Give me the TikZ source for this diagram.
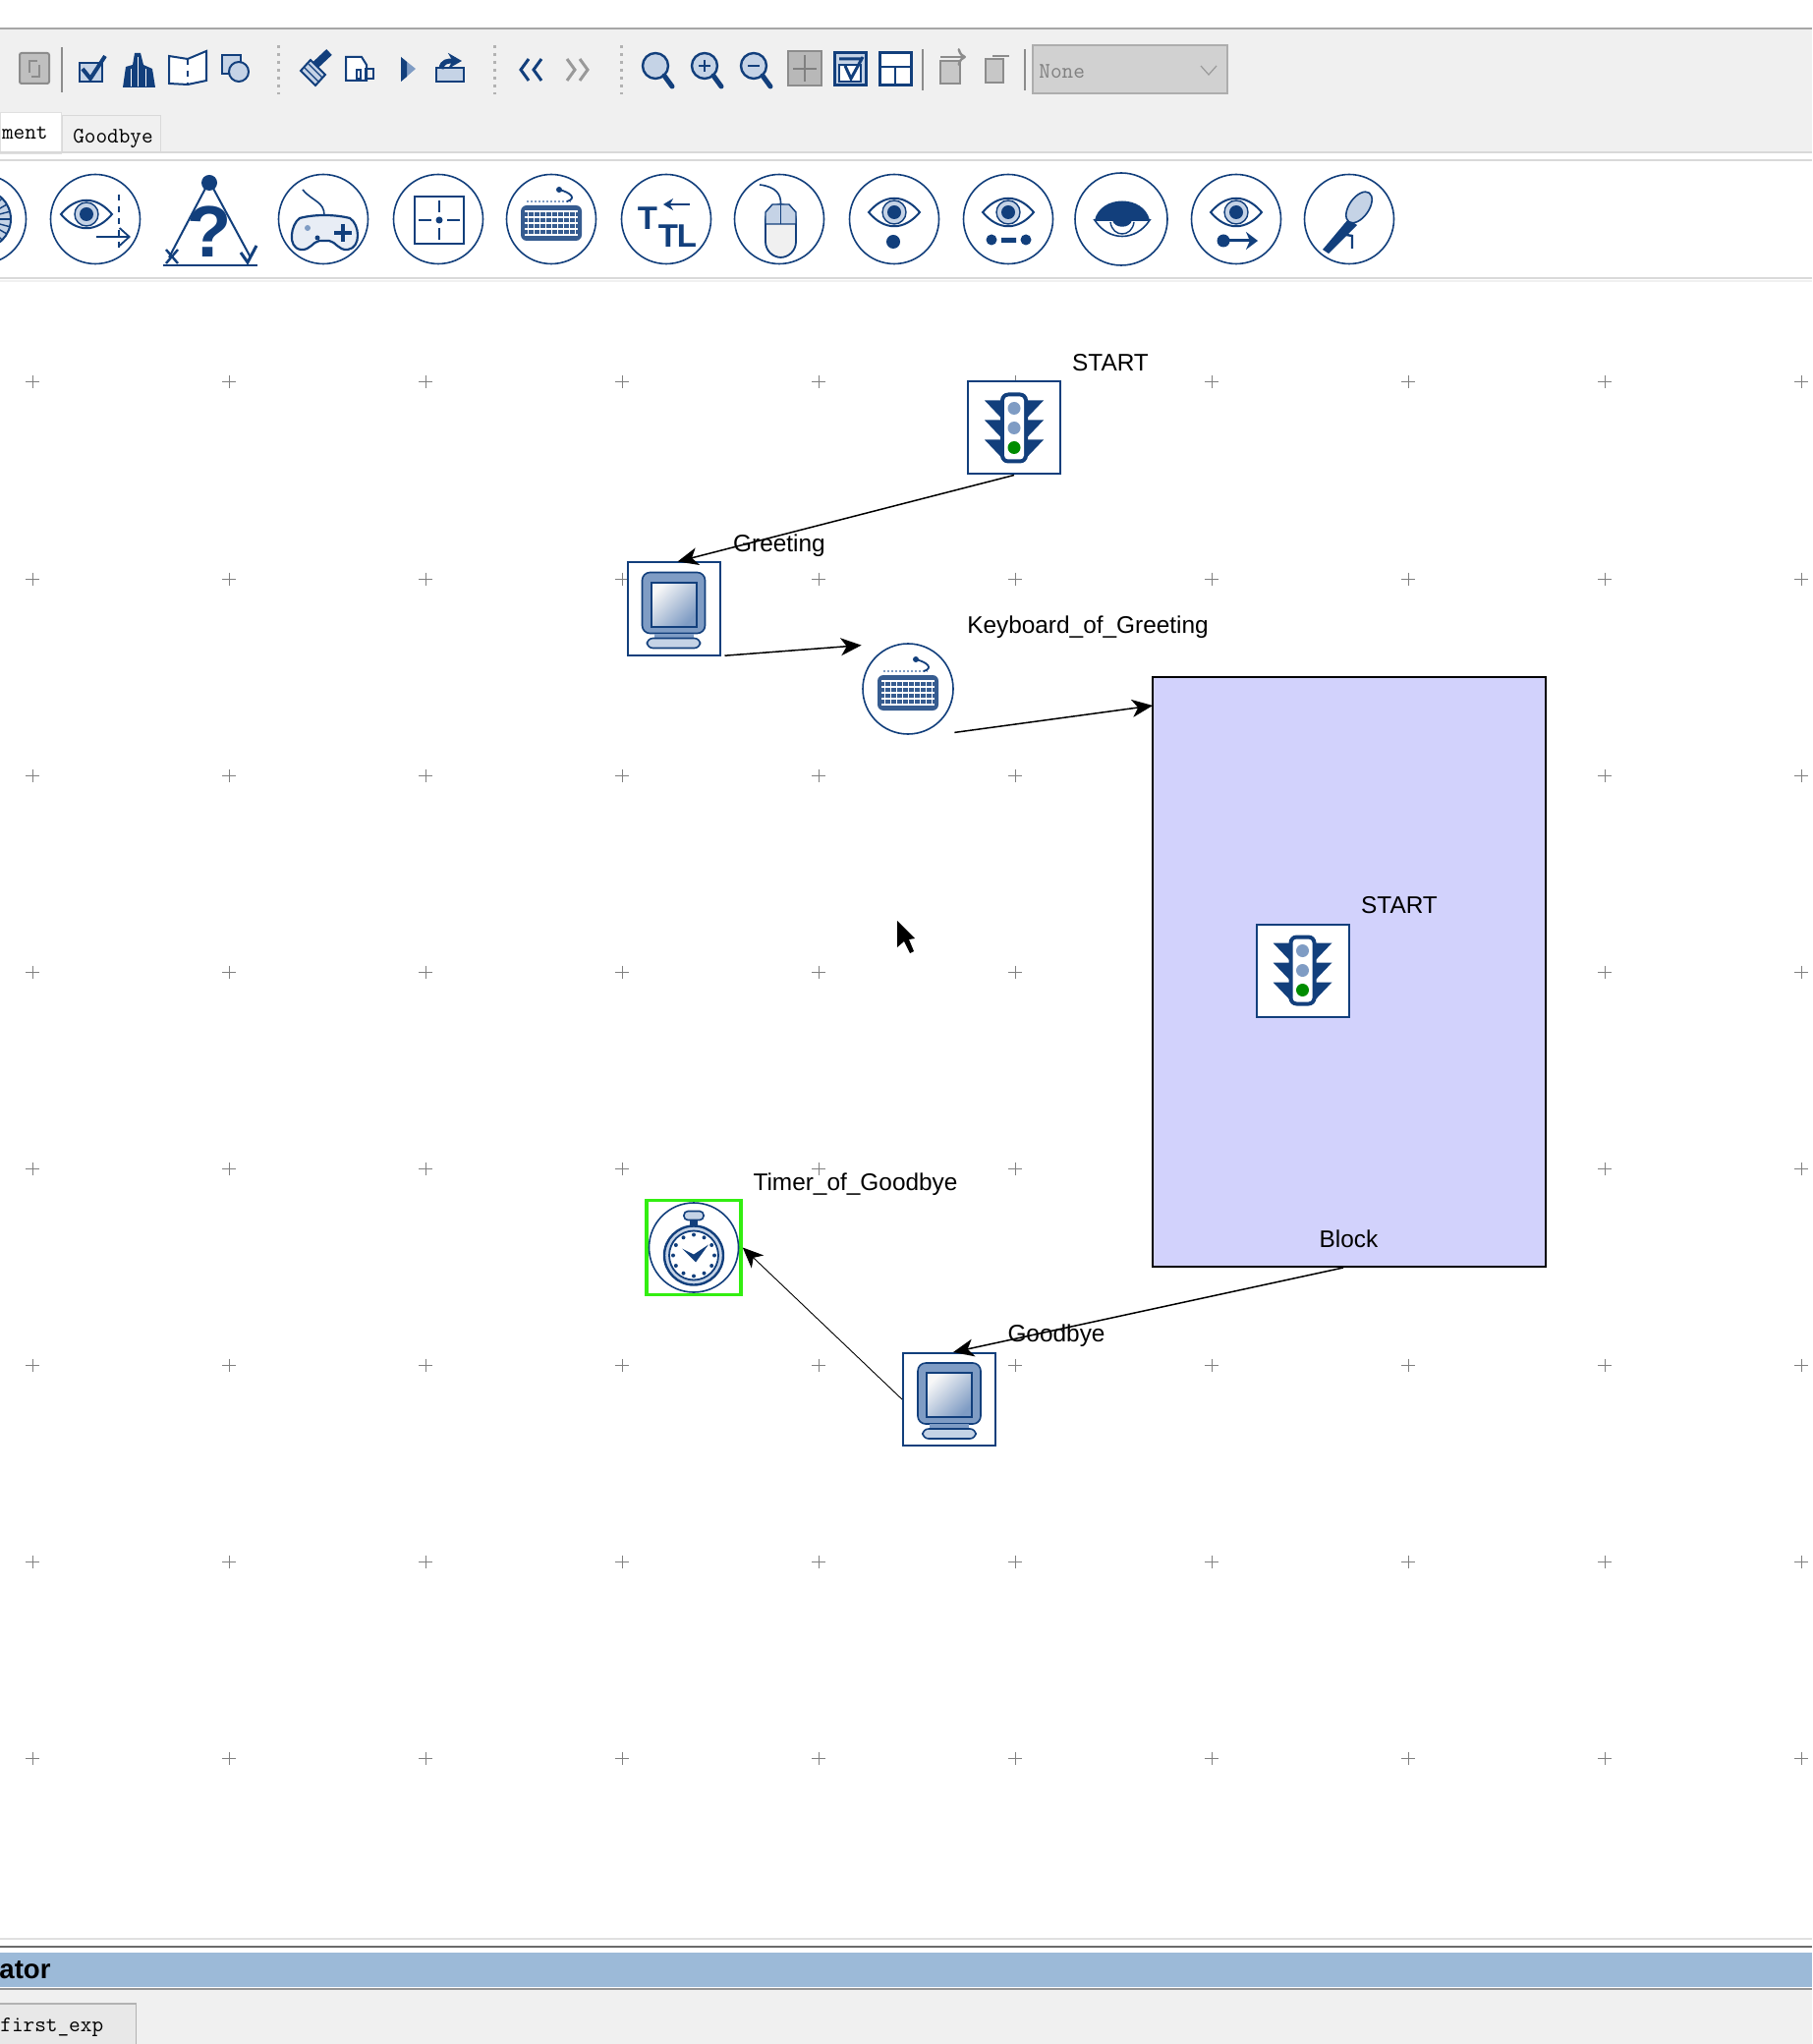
\documentclass[tikz,border=0pt]{standalone}
\usepackage{fontspec}
\setmainfont{Liberation Sans}
\usetikzlibrary{arrows.meta,calc}
\definecolor{iconblue}{HTML}{123F7C}
\definecolor{iconmid}{HTML}{7F9CC4}
\definecolor{iconpale}{HTML}{C5D3E6}
\definecolor{barblue}{HTML}{9CBAD8}
\definecolor{panelgray}{HTML}{F0F0F0}
\definecolor{blockfill}{HTML}{D2D2FC}
\definecolor{timergreen}{HTML}{33EE11}
\tikzset{
  iconline/.style={draw=iconblue, line width=1pt},
  grayline/.style={draw=black!45, line width=1pt},
  iconbox/.style={rectangle, draw=iconblue, line width=1pt, fill=white,
                  minimum width=47pt, minimum height=47pt, inner sep=0pt},
  plainbox/.style={rectangle, minimum width=47pt, minimum height=44pt, inner sep=0pt},
  palcircle/.style={circle, draw=iconblue, line width=.8pt, fill=white,
                    minimum size=45.5pt, inner sep=0pt},
  blockbox/.style={rectangle, draw=black, line width=1pt, fill=blockfill,
                   minimum width=200pt, minimum height=300pt, inner sep=0pt},
  timerbox/.style={rectangle, draw=timergreen, line width=1.8pt, fill=white,
                   minimum width=48pt, minimum height=48pt, inner sep=0pt},
  diaglabel/.style={inner sep=0pt, font=\fontsize{12.2}{14}\selectfont},
  uilabel/.style={inner sep=0pt, font=\fontsize{11.3}{13}\selectfont\ttfamily},
  arr/.style={-{Stealth[length=10.5pt,width=9pt,inset=3pt]}, line width=.75pt, draw=black},
  thinarr/.style={arr, line width=.45pt},
  dottedsep/.style={draw=black!30, line width=1.5pt, dash pattern=on 1.5pt off 2.5pt},
  solidsep/.style={draw=black!45, line width=.6pt},
  lightpic/.pic={
    \foreach \wy in {-20,0,20} {
      \fill[iconblue] (-30,\wy-8) -- (-10,\wy-8) -- (-10,\wy+13) -- cycle;
      \fill[iconblue] (30,\wy-8) -- (10,\wy-8) -- (10,\wy+13) -- cycle;
    }
    \fill[iconblue, rounded corners=4] (-14,-36) rectangle (14,36);
    \fill[white, rounded corners=2] (-10,-32) rectangle (10,32);
    \fill[iconmid] (0,-20) circle (6.5) (0,0) circle (6.5);
    \fill[green!55!black] (0,20) circle (6.5);
  },
  screenpic/.pic={
    \draw[iconblue, line width=.8pt, fill=iconmid, rounded corners=4] (-32,-37) rectangle (32,25);
    \shade[top color=black!3, middle color=white, bottom color=iconmid, shading angle=45] (-23,-27) rectangle (23,18);
    \draw[iconblue, line width=1pt] (-23,-27) rectangle (23,18);
    \fill[iconmid] (-20,25) rectangle (20,30);
    \draw[iconblue, line width=.8pt, fill=iconpale, rounded corners=3] (-27,30) rectangle (27,40);
  },
  keyspic/.pic={
    \fill[iconblue!85!white, rounded corners=3] (-31,-14) rectangle (31,22);
    \foreach \ky in {-8,-2,4,10,16} \draw[white, line width=.55pt] (-27,\ky) -- (27,\ky);
    \foreach \kx in {-24,-18,...,24} \draw[white, line width=.45pt] (\kx,-8) -- (\kx,16);
    \draw[iconmid, line width=1pt, dash pattern=on 1pt off 1pt] (-25,-18) -- (20,-18);
    \draw[iconblue, line width=.9pt] (16,-18) .. controls (26,-21) and (20,-27) .. (8,-30);
    \fill[iconblue] (8,-30) circle (3);
  },
  clockpic/.pic={
    \draw[iconblue, line width=.8pt] (0,0) circle (45.5);
    \draw[iconblue, line width=.8pt, fill=iconpale, rounded corners=2] (-10,-37) rectangle (10,-28);
    \fill[iconblue] (-4,-28) rectangle (4,-20);
    \draw[iconblue, line width=1.2pt, fill=iconpale] (0,8) circle (30);
    \draw[iconblue, line width=.9pt, fill=white] (0,8) circle (25);
    \foreach \ca in {0,30,...,330} \fill[iconblue] ($(0,8)+(\ca:21)$) circle (2);
    \fill[iconblue] (-12,1) -- (0,7) -- (15,-3) -- (2,15) -- cycle;
  },
  eyepic/.pic={
    \draw[iconblue, line width=1pt, fill=white] (-26,0) .. controls (-10,-19) and (10,-19) .. (26,0)
      .. controls (10,19) and (-10,19) .. (-26,0) -- cycle;
    \draw[iconblue, line width=.7pt, fill=iconpale] (0,0) circle (12);
    \fill[iconblue] (0,0) circle (7);
  },
  lenspic/.pic={
    \draw[iconblue, line width=1.2pt, fill=iconpale] (0,0) circle (13);
    \draw[iconblue, line width=2.5pt, line cap=round] (9,10) -- (17,21);
  },
}
\begin{document}
\begin{tikzpicture}[x=.5pt,y=-.5pt]
  \useasboundingbox (0,0) rectangle (1844,2080);
  \fill[white] (0,0) rectangle (1844,2080);
  % toolbar and tab strip
  \fill[panelgray] (0,30) rectangle (1844,155);
  \draw[draw=black!35, line width=1pt] (0,29) -- (1844,29);
  \node[rectangle, fill=white, draw=black!12, minimum width=31pt, minimum height=21pt, inner sep=0pt] (tabcurrent) at (31,135) {};
  \node[rectangle, fill=panelgray, draw=black!15, minimum width=50pt, minimum height=19pt, inner sep=0pt] (tabbye) at (113,136.5) {};
  \node[uilabel, anchor=east] (tabcurrenttext) at (49,135) {ment};
  \node[uilabel] (tabbyetext) at (115,141) {Goodbye};
  \draw[draw=black!15, line width=1pt] (0,155) -- (1844,155) (0,163) -- (1844,163) (0,283) -- (1844,283);
  \fill[panelgray] (0,285) rectangle (1844,287);
  % toolbar icons
  \draw[grayline, fill=black!25, rounded corners=1] (20,54) rectangle (50,85);
  \draw[black!45, line width=1.2pt] (30,74) -- (30,62) -- (38,62) (40,66) -- (40,78) -- (32,78);
  \draw[solidsep] (63,48) -- (63,94);
  \draw[iconline, fill=iconpale] (81,64) rectangle (104,83);
  \draw[iconblue, line width=2pt] (84,70) -- (92,80) -- (107,57);
  \fill[iconblue] (125,89) -- (128,68) -- (135,66) -- (137,54) -- (143,54) -- (146,66) -- (155,70) -- (158,89) -- cycle;
  \draw[white, line width=.5pt] (133,70) -- (133,88) (140,58) -- (140,88) (148,70) -- (148,88);
  \draw[iconline, fill=white] (172,57) -- (191,60) -- (210,52) -- (210,82) -- (191,86) -- (172,85) -- cycle;
  \draw[iconline, dashed] (191,60) -- (191,86);
  \draw[iconline, fill=iconpale] (226,56) rectangle (245,75);
  \draw[iconline, fill=iconpale] (243,73) circle (10);
  \draw[iconblue, line width=4pt] (317,70) -- (335,53);
  \draw[iconline, fill=iconpale] (306,72) -- (321,87) -- (331,76) -- (316,61) -- cycle;
  \draw[iconblue, line width=.6pt] (310,69) -- (324,83) (314,65) -- (328,79);
  \draw[iconline, fill=white] (352,58) -- (368,58) -- (373,66) -- (373,82) -- (352,82) -- cycle;
  \draw[iconline] (363,71) rectangle (367,80) (372,70) rectangle (380,80);
  \fill[iconmid] (408,58) -- (408,83) -- (423,70) -- cycle;
  \fill[iconblue] (408,58) -- (408,83) -- (414,78) -- (414,63) -- cycle;
  \draw[iconline, fill=iconpale] (444,83) rectangle (472,69);
  \draw[iconblue, line width=2.5pt, -{Stealth[length=7pt,width=8pt]}] (449,70) .. controls (450,62) and (456,62) .. (470,62);
  \draw[dottedsep] (283.5,46) -- (283.5,96);
  \draw[dottedsep] (503.5,46) -- (503.5,96);
  \draw[iconblue, line width=1.5pt] (538,60) -- (530,71) -- (538,82) (551,60) -- (543,71) -- (551,82);
  \draw[black!40, line width=1.5pt] (577,60) -- (585,71) -- (577,82) (590,60) -- (598,71) -- (590,82);
  \draw[dottedsep] (632,46) -- (632,96);
  \pic at (667,67) {lenspic};
  \pic at (717,67) {lenspic};
  \draw[iconblue, line width=1.3pt] (711,67) -- (723,67) (717,61) -- (717,73);
  \pic at (767,67) {lenspic};
  \draw[iconblue, line width=1.3pt] (761,67) -- (773,67);
  \draw[grayline, fill=black!28] (802,52) rectangle (836,87);
  \draw[black!50, line width=.8pt] (807,70) -- (831,70) (819,56) -- (819,83);
  \draw[iconline, line width=1.5pt, fill=iconpale] (849,54) rectangle (881,87);
  \draw[iconline, fill=white] (854,66) rectangle (876,83);
  \draw[iconblue, line width=1.5pt] (854,60) -- (876,60) (860,67) -- (866,80) -- (878,58);
  \draw[iconline, line width=1.5pt, fill=white] (895,54) rectangle (927,87);
  \draw[iconline] (895,68) -- (927,68) (911,68) -- (911,87);
  \draw[solidsep] (939,50) -- (939,92);
  \draw[grayline, fill=black!22] (957,62) rectangle (977,85);
  \draw[black!45, line width=1.2pt, ->] (957,58) -- (983,58);
  \draw[grayline, fill=black!22] (1003,60) rectangle (1021,84);
  \draw[grayline] (1010,57) -- (1027,57);
  \draw[solidsep] (1043,50) -- (1043,92);
  \node[rectangle, draw=black!32, line width=1pt, fill=black!18, minimum width=99pt, minimum height=24.5pt, inner sep=0pt] (combo) at (1150,70.5) {};
  \node[uilabel, text=black!50, anchor=west] (combotext) at (1057,73) {None};
  \draw[black!40, line width=.6pt] (1222,67) -- (1230,76) -- (1238,67);
  % palette
  \node[palcircle] (paledge) at (-19,223) {};
  \draw[iconblue, line width=1pt, fill=iconpale] (paledge.center) circle (30);
  \foreach \pa in {-60,-45,...,60} \draw[iconblue, line width=.7pt] (paledge.center) -- ++(\pa:30);
  \node[palcircle] (palgaze) at (97,223) {};
  \pic at (88,218) {eyepic};
  \draw[iconblue, line width=.8pt, dashed] (121,198) -- (121,252);
  \draw[iconblue, line width=.9pt, -{Straight Barb[length=5pt,width=9pt]}] (98,241) -- (133,241);
  \fill[iconblue] (213,186) circle (8);
  \draw[iconline] (211,188) -- (172,262) (215,188) -- (255,262);
  \draw[iconblue, line width=1.1pt] (166,270) -- (262,270);
  \draw[iconblue, line width=1.2pt] (169,254) -- (181,268) (181,254) -- (169,268);
  \draw[iconblue, line width=1.5pt] (245,257) -- (252,267) -- (261,250);
  \node[inner sep=0pt, text=iconblue, font=\fontsize{37}{37}\selectfont\bfseries] (palquestion) at (213,236) {?};
  \node[palcircle] (palpad) at (329,223) {};
  \draw[iconblue, line width=.8pt] (308,193) .. controls (318,205) and (330,205) .. (330,219);
  \draw[iconblue, line width=1.1pt, fill=iconpale!40] (305,222) .. controls (320,218) and (340,218) .. (356,222)
    .. controls (366,228) and (368,252) .. (354,254) .. controls (344,255) and (342,246) .. (335,245) -- (325,245)
    .. controls (318,246) and (316,255) .. (306,254) .. controls (292,252) and (296,228) .. (305,222) -- cycle;
  \draw[iconblue, line width=2.3pt] (340,237) -- (358,237) (349,228) -- (349,246);
  \fill[iconmid] (313,232) circle (3);
  \fill[iconblue] (323,242) circle (2.5);
  \node[palcircle] (palfix) at (446,223) {};
  \draw[iconblue, line width=1.2pt] (422,200) rectangle (472,248);
  \draw[iconblue, line width=1.2pt] (447,204) -- (447,216) (447,232) -- (447,244) (426,224) -- (439,224) (455,224) -- (468,224);
  \fill[iconblue] (447,224) circle (3.5);
  \node[palcircle] (palkeys) at (561,223) {};
  \pic at (561,223) {keyspic};
  \node[palcircle] (palttl) at (678,223) {};
  \node[inner sep=0pt, text=iconblue, font=\fontsize{16.5}{17}\selectfont\bfseries] (palttla) at (659,222) {T};
  \node[inner sep=0pt, text=iconblue, font=\fontsize{16.5}{17}\selectfont\bfseries] (palttlb) at (680,240) {T};
  \node[inner sep=0pt, text=iconblue, font=\fontsize{16.5}{17}\selectfont\bfseries] (palttlc) at (699,240) {L};
  \draw[iconblue, line width=1.2pt, -{Stealth[length=5pt,width=6pt]}] (702,208) -- (675,208);
  \node[palcircle] (palmouse) at (793,223) {};
  \draw[iconblue, line width=.8pt] (773,188) .. controls (790,190) and (795,198) .. (794.5,208);
  \draw[iconblue, line width=.9pt, fill=black!6, rounded corners=8] (779,208) rectangle (810,262);
  \draw[iconblue, line width=.7pt, fill=iconpale] (779,228) -- (810,228) -- (810,216) -- (803,208) -- (786,208) -- (779,216) -- cycle;
  \draw[iconblue, line width=.7pt] (794.5,208) -- (794.5,228);
  \node[palcircle] (paleyedot) at (910,223) {};
  \pic at (910,216) {eyepic};
  \fill[iconblue] (909,246) circle (7);
  \node[palcircle] (paleyedash) at (1026,223) {};
  \pic at (1026,216) {eyepic};
  \fill[iconblue] (1009,244) circle (5.5) (1044,244) circle (5.5) (1019,242) rectangle (1034,247);
  \node[palcircle, minimum size=47pt] (paleyeshut) at (1141,223) {};
  \draw[iconblue, line width=.8pt, fill=white] (1114,224) .. controls (1128,246) and (1156,246) .. (1170,224) -- cycle;
  \draw[iconblue, line width=.7pt] (1130,226) .. controls (1132,242) and (1152,242) .. (1154,226);
  \fill[iconblue] (1114,224) .. controls (1120,198) and (1164,198) .. (1170,224) .. controls (1162,224) and (1152,224) .. (1152,224)
    .. controls (1150,233) and (1134,233) .. (1132,224) .. controls (1126,224) and (1120,224) .. (1114,224) -- cycle;
  \node[palcircle] (paleyearrow) at (1258,223) {};
  \pic at (1258,216) {eyepic};
  \fill[iconblue] (1245,245) circle (6.5);
  \draw[iconblue, line width=1.5pt, -{Stealth[length=6pt,width=9pt]}] (1248,245) -- (1280,245);
  \node[palcircle] (palmic) at (1373,223) {};
  \fill[iconblue] (1372,223) -- (1381,229) -- (1352,258) -- (1346,254) -- cycle;
  \draw[iconblue, line width=1.2pt] (1364,238) -- (1376,240) -- (1376,253);
  \draw[iconblue, line width=.8pt, fill=iconpale, rotate around={-35:(1383,211)}] (1383,211) ellipse (10 and 18);
  % bottom bar
  \draw[draw=black!12, line width=1pt] (0,1973) -- (1844,1973);
  \draw[draw=black!58, line width=1pt] (0,1981) -- (1844,1981);
  \fill[barblue] (0,1987) rectangle (1844,2022);
  \fill[panelgray] (0,2024) rectangle (1844,2080);
  \draw[draw=black!42, line width=1pt] (0,2024) -- (1844,2024);
  \node[inner sep=0pt, anchor=east, font=\fontsize{13.8}{15}\selectfont\bfseries] (bartitle) at (52,2005) {ator};
  \node[rectangle, draw=black!30, line width=.7pt, fill=black!9, minimum width=70.5pt, minimum height=23pt, inner sep=0pt] (tabfile) at (68,2062) {};
  \node[uilabel, anchor=west] (tabfiletext) at (0,2063) {first\_exp};
  % grid of the canvas
  \foreach \gx in {33,233,...,1833} \foreach \gy in {389,589,...,1789}
    \draw[draw=black!50, line width=.5pt] (\gx-7,\gy) -- (\gx+7,\gy) (\gx,\gy-6.5) -- (\gx,\gy+6.5);
  % diagram
  \node[iconbox] (startlight) at (1032,435.5) {};
  \pic at (startlight) {lightpic};
  \node[iconbox] (greetscreen) at (685.5,619.5) {};
  \pic at (greetscreen) {screenpic};
  \node[plainbox] (keyinput) at (924,701) {};
  \draw[iconblue, line width=.8pt] (keyinput.center) circle (46);
  \pic at (keyinput) {keyspic};
  \node[blockbox] (blockarea) at (1373,989) {};
  \node[iconbox] (innerlight) at (1325.5,987.5) {};
  \pic at (innerlight) {lightpic};
  \node[timerbox] (byetimer) at (706,1269.5) {};
  \pic at (byetimer) {clockpic};
  \node[iconbox] (byescreen) at (966,1424) {};
  \pic at (byescreen) {screenpic};
  \coordinate (blockentry) at (1173,718);
  \draw[arr] (startlight.south) -- ([xshift=2pt]greetscreen.north);
  \draw[arr, shorten <=2pt] (greetscreen.south east) -- (keyinput.north west);
  \draw[arr] (keyinput.south east) -- (blockentry);
  \draw[arr] ([xshift=-3pt]blockarea.south) -- ([xshift=2pt]byescreen.north);
  \draw[thinarr] (byescreen.west) -- (byetimer.east);
  \node[diaglabel] (startlabel) at (1130,369) {START};
  \node[diaglabel] (greetlabel) at (793,555.5) {Greeting};
  \node[diaglabel] (keylabel) at (1107,638) {Keyboard\_of\_Greeting};
  \node[diaglabel] (innerlabel) at (1424,921) {START};
  \node[diaglabel] (blocklabel) at (1372.5,1261) {Block};
  \node[diaglabel] (timerlabel) at (870.5,1205.5) {Timer\_of\_Goodbye};
  \node[diaglabel] (byelabel) at (1075,1359.5) {Goodbye};
  \fill[black] (913,937) -- (913,964) -- (920,958) -- (926,970) -- (930,968) -- (925,956) -- (931,955) -- cycle;
\end{tikzpicture}
\end{document}
